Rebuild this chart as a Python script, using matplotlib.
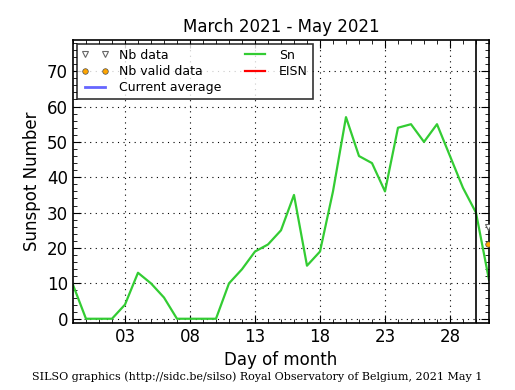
import matplotlib
matplotlib.use("Agg")
import matplotlib.pyplot as plt
from matplotlib.ticker import MultipleLocator

# daily sunspot number (Sn), day -1 .. 31
days = list(range(-1, 32))
sn = [9.6, 0, 0, 0, 4, 13, 10, 6, 0, 0, 0, 0, 10, 14, 19, 21, 25, 35, 15, 19,
      36, 57, 46, 44, 36, 54, 55, 50, 55, 46, 37, 30, 11]
nb_data_day, nb_data_val = [30.9], [26]
nb_valid_day, nb_valid_val = [30.9], [21]
today = 30
xticks = [3, 8, 13, 18, 23, 28]
xticklabels = ["03", "08", "13", "18", "23", "28"]

fig = plt.figure(figsize=(5.15, 3.9), dpi=100)
ax = fig.add_axes([0.1417, 0.1718, 0.8078, 0.7256])

ax.plot(nb_data_day, nb_data_val, "v", ms=4, color="0.4", mfc="white",
        mew=0.8, label="Nb data", zorder=4)
ax.plot(nb_valid_day, nb_valid_val, "o", ms=4, color="orange", mec="0.3",
        mew=0.5, label="Nb valid data", zorder=4)
ax.plot([], [], color="#6666ff", lw=2, label="Current average")
ax.plot(days, sn, color="#33cc33", lw=1.6, label="Sn")
ax.plot([], [], color="red", lw=1.6, label="EISN")
ax.axvline(today, color="black", lw=1.2)

ax.set_xlim(-1, 31)
ax.set_ylim(-1.2, 78.8)
ax.set_xticks(xticks)
ax.set_xticklabels(xticklabels)
ax.set_yticks(range(0, 80, 10))
ax.xaxis.set_minor_locator(MultipleLocator(1))
ax.yaxis.set_minor_locator(MultipleLocator(2))
ax.tick_params(which="both", direction="in", top=True, right=True, labelsize=12)
ax.tick_params(which="major", length=6)
ax.tick_params(which="minor", length=3)
ax.grid(True, which="major", color="black", linestyle=(0, (1, 4)), lw=0.8)
for s in ax.spines.values():
    s.set_linewidth(1.2)

ax.set_title("March 2021 - May 2021", fontsize=12)
ax.set_xlabel("Day of month", fontsize=12)
ax.set_ylabel("Sunspot Number", fontsize=12)

leg = ax.legend(loc="upper left", ncol=2, numpoints=2, fontsize=9,
                frameon=True, fancybox=False, borderaxespad=0.3,
                columnspacing=1.6, handlelength=2.2, labelspacing=0.25)
leg.get_frame().set_edgecolor("black")
leg.get_frame().set_linewidth(1.2)
leg.set_zorder(5)

fig.text(0.5, 0.025, "SILSO graphics (http://sidc.be/silso) Royal Observatory of Belgium, 2021 May 1",
         ha="center", fontsize=8, family="DejaVu Serif")

fig.savefig("out.png", dpi=100)
